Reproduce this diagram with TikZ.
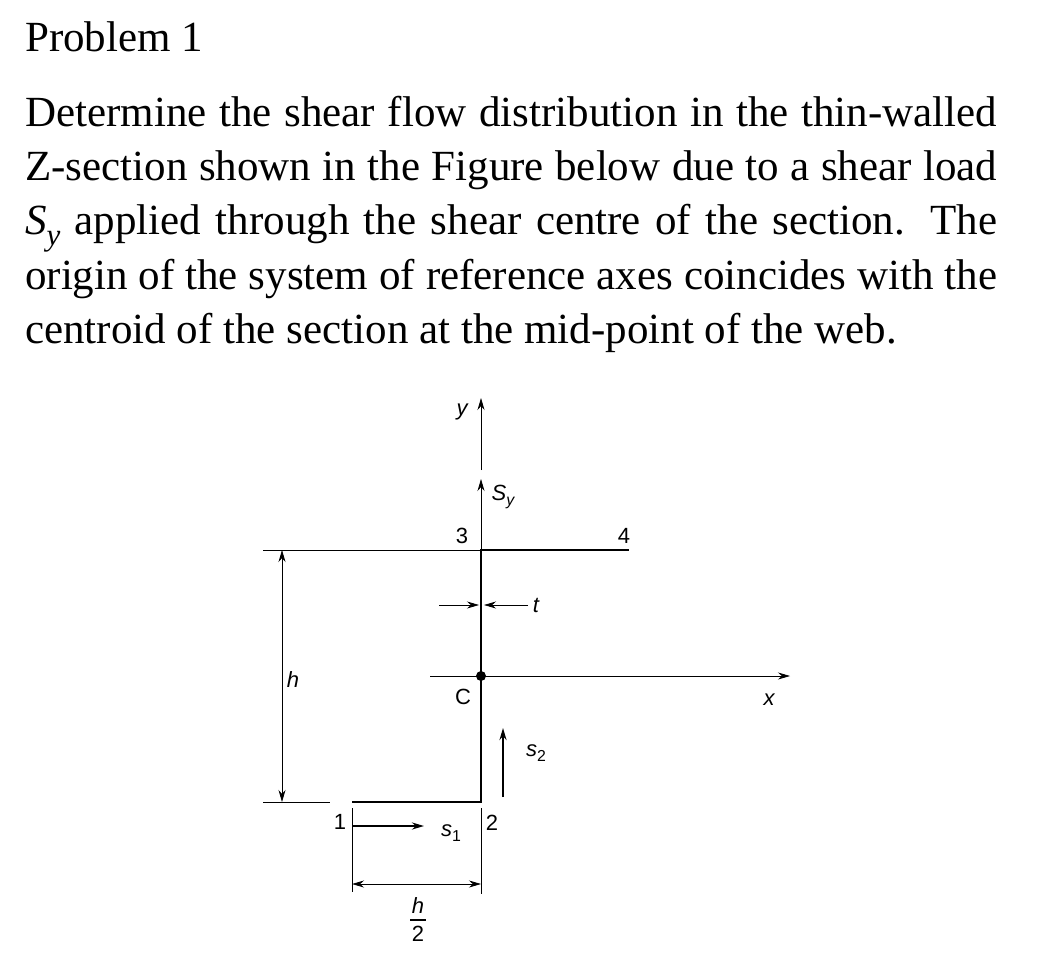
\documentclass[tikz,border=0pt]{standalone}
\usepackage{fontspec}
\setmainfont{Liberation Serif}
\newfontfamily\figfont{Liberation Sans}
\usetikzlibrary{arrows.meta}
\newcommand{\sbs}[1]{\raisebox{-0.25em}{\scalebox{0.72}{#1}}}
\newcommand{\jline}[1]{\makebox[972pt][s]{#1}}
\begin{document}
\begin{tikzpicture}[x=1pt,y=-1pt,
  txt/.style={anchor=base west,inner sep=0pt,font=\fontsize{43}{48}\selectfont},
  lab/.style={inner sep=0pt,font=\figfont\fontsize{22}{24}\selectfont},
  ilab/.style={lab,font=\figfont\itshape\fontsize{22}{24}\selectfont},
  thin/.style={line width=0.8pt},
  thick/.style={line width=2.2pt},
  arr/.style={-{Stealth[length=12pt,width=7pt]}},
  darr/.style={{Stealth[length=12pt,width=7pt]}-{Stealth[length=12pt,width=7pt]}}]
\useasboundingbox (0,0) rectangle (1059,976);
\node[txt] (l0) at (25,52) {Problem 1};
\node[txt] (l1) at (25,127) {\jline{Determine the shear flow distribution in the thin-walled}};
\node[txt] (l2) at (25,181) {\jline{Z-section shown in the Figure below due to a shear load}};
\node[txt] (l3) at (25,235) {\jline{\textit{S}\sbs{\textit{y}} applied through the shear centre of the section. The}};
\node[txt] (l4) at (25,289) {\jline{origin of the system of reference axes coincides with the}};
\node[txt] (l5) at (25,343) {centroid of the section at the mid-point of the web.};
% geometry
\coordinate (p1) at (352,802);
\coordinate (p2) at (481,802);
\coordinate (p3) at (481,550);
\coordinate (p4) at (629,550);
\coordinate (C) at (481,676);
\draw[thick] (p1) -- (p2) -- (p3) -- (p4);
\draw[thin] (263,550) -- (p3);
\draw[thin] (263,802) -- (330,802);
\coordinate (ht) at (282,550); \coordinate (hb) at (282,802);
\draw[thin,darr] (ht) -- (hb);
\node[ilab] (h) at (293,680) {h};
% axes
\coordinate (xa) at (430,676); \coordinate (xb) at (790,676);
\draw[thin,arr] (xa) -- (xb);
\node[ilab] (xl) at (769,700) {x};
\fill (C) circle (5);
\node[lab] (Cl) at (463,697) {C};
\coordinate (ya) at (481,470); \coordinate (yb) at (481,398);
\draw[thin,arr] (ya) -- (yb);
\node[ilab] (yl) at (462,412) {y};
\draw[thin,arr] (p3) -- (481,479);
\node[ilab] (Sy) at (503,497) {S\sbs{y}};
\node[lab] (n3) at (462,536) {3};
\node[lab] (n4) at (624,536) {4};
% t
\coordinate (ta) at (439,605); \coordinate (tb) at (528,605);
\draw[thin,arr] (ta) -- (479,605);
\draw[thin,arr] (tb) -- (484,605);
\node[ilab] (t) at (536,605) {t};
% s2
\coordinate (s2a) at (503,797); \coordinate (s2b) at (503,728);
\draw[thick,arr] (s2a) -- (s2b);
\node[ilab] (s2) at (536,753) {s\sbs{\upshape 2}};
% s1
\draw[thin] (352,808) -- (352,892);
\draw[thin] (481,808) -- (481,894);
\coordinate (s1a) at (352,826); \coordinate (s1b) at (424,826);
\draw[thick,arr] (s1a) -- (s1b);
\node[ilab] (s1) at (451,833) {s\sbs{\upshape 1}};
\node[lab] (n1) at (340,822) {1};
\node[lab] (n2) at (492,823) {2};
\coordinate (da) at (352,884); \coordinate (db) at (481,884);
\draw[thin,darr] (da) -- (db);
\node[ilab] (fh) at (418,906) {h};
\node[lab] (f2) at (418,934) {2};
\draw[line width=1.5pt] (410,920) -- (426,920);
\end{tikzpicture}
\end{document}
